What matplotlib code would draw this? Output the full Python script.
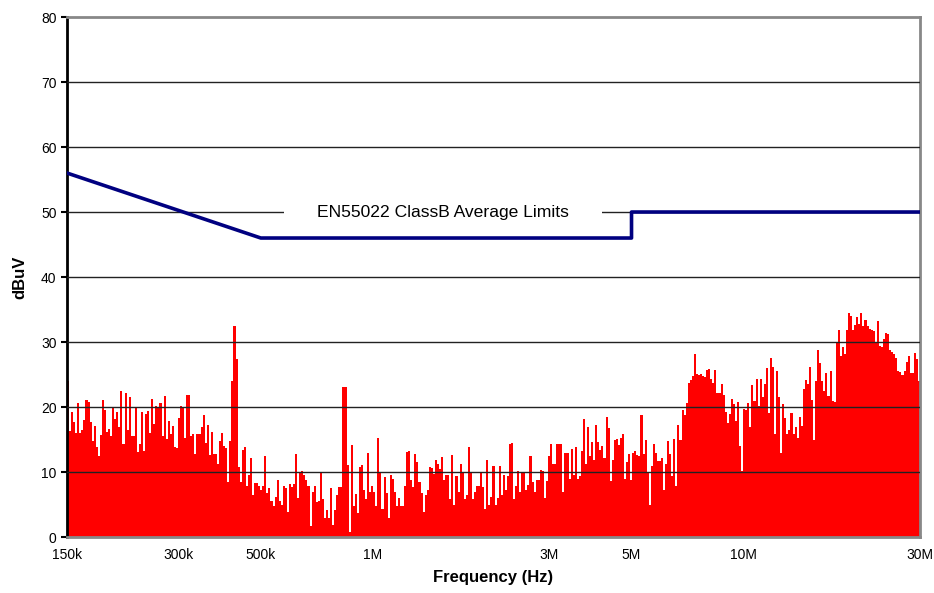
import numpy as np
import matplotlib
matplotlib.use('Agg')
import matplotlib.pyplot as plt

plt.rcParams['font.family'] = ['Liberation Sans', 'DejaVu Sans']

# measured average level per sweep step (dBuV), low -> high frequency
level_db = [
    # ~150k - 300k
    24.0, 16.3, 19.2, 17.7, 16.0, 20.6, 16.0, 16.5, 18.0, 21.1,
    20.8, 17.7, 14.8, 17.1, 13.9, 12.4, 15.7, 21.1, 19.6, 16.2,
    16.6, 15.5, 19.8, 18.2, 19.3, 17.0, 22.4, 14.3, 22.1, 16.4,
    21.6, 15.5, 15.6, 19.9, 13.1, 14.3, 19.3, 13.2, 19.0, 19.4,
    16.0, 21.2, 17.4, 20.2, 19.9, 20.6, 15.5, 21.7, 15.1, 17.9,
    15.9, 17.1, 13.8, 13.7, 18.3, 20.1, 19.9, 15.3, 21.9, 21.9,
    15.6, 15.9, 12.8, 15.8, 15.8, 17.0,
    # ~300k - 1M
    18.8, 14.5, 17.3, 12.6, 16.1, 12.8, 12.8, 11.2, 14.8, 16.0,
    14.0, 13.7, 8.5, 14.7, 24.0, 32.5, 27.4, 10.8, 8.5, 13.4,
    13.8, 7.9, 9.6, 12.1, 6.4, 8.3, 8.3, 7.8, 7.2, 7.9,
    12.5, 6.8, 7.5, 5.5, 4.7, 6.1, 8.7, 5.6, 4.9, 7.9,
    7.5, 3.9, 8.2, 7.7, 8.1, 12.7, 6.0, 9.8, 10.1, 9.5,
    8.8, 7.9, 1.7, 7.0, 7.9, 5.4, 5.6, 9.9, 5.8, 3.0,
    4.2, 3.0, 7.5, 1.8, 4.2, 6.4, 7.7, 7.7, 23.1, 23.1,
    # ~1M - 2M
    11.1, 0.8, 14.2, 4.8, 6.6, 3.7, 10.8, 11.1, 7.3, 5.8,
    12.9, 6.9, 7.8, 7.0, 4.8, 15.2, 10.0, 4.3, 9.3, 6.8,
    3.0, 9.6, 9.0, 7.0, 4.8, 6.0, 4.8, 4.8, 7.8, 13.1,
    13.3, 8.8, 7.7, 12.7, 11.6, 8.5, 6.8, 3.9, 6.4, 7.3,
    10.8, 10.6, 9.7, 11.8, 11.3, 10.4, 12.3, 8.8, 9.5, 9.5,
    5.9, 12.6, 5.0, 9.4, 6.9, 11.3, 10.0, 5.8, 6.4, 13.8,
    10.0, 5.9, 7.0, 7.8, 7.8, 10.0, 7.7, 4.3, 11.9, 5.0,
    6.1, 11.0,
    # ~2M - 6M
    4.9, 6.0, 11.0, 6.4, 9.5, 7.3, 9.4, 14.3, 14.5, 5.9,
    7.8, 10.2, 6.9, 10.0, 9.8, 7.3, 8.0, 12.4, 8.4, 6.9,
    8.7, 8.7, 10.3, 10.1, 6.0, 8.6, 12.5, 14.3, 11.2, 11.2,
    14.3, 14.3, 14.3, 6.9, 13.0, 12.9, 9.0, 13.6, 9.6, 13.8,
    9.0, 9.4, 13.2, 18.2, 11.3, 16.9, 12.4, 14.6, 11.9, 17.2,
    14.6, 13.4, 14.0, 12.2, 18.5, 16.8, 8.6, 11.9, 14.9, 15.1,
    14.1, 15.3, 15.9, 9.0, 11.6, 12.8, 8.7, 12.9, 13.2, 12.6,
    12.5, 18.7,
    # ~6M - 13M
    12.8, 15.0, 10.0, 5.0, 11.0, 14.3, 12.9, 11.7, 11.7, 12.2,
    7.3, 11.2, 14.8, 12.8, 9.4, 15.1, 7.9, 17.2, 15.0, 19.5,
    18.8, 20.6, 23.7, 24.1, 24.7, 28.2, 25.1, 25.0, 25.1, 24.8,
    24.6, 25.7, 25.9, 24.3, 23.7, 25.7, 22.2, 22.2, 23.6, 21.9,
    19.3, 17.5, 19.0, 21.2, 20.4, 17.8, 20.8, 14.0, 10.2, 19.7,
    19.5, 20.6, 17.0, 23.4, 21.0, 24.3, 20.1, 24.3, 21.6, 23.5,
    26.0, 19.1, 27.6, 26.1, 15.8,
    # ~13M - 30M
    25.5, 21.5, 12.9, 20.4, 18.3, 15.8, 16.5, 19.1, 15.9, 17.0,
    15.3, 18.5, 17.1, 22.8, 24.2, 23.5, 26.1, 21.1, 15.0, 24.0,
    28.8, 26.8, 24.0, 22.4, 25.3, 21.7, 25.5, 20.9, 20.7, 30.0,
    31.8, 27.9, 29.2, 28.2, 31.9, 34.4, 34.0, 31.9, 32.6, 33.9,
    32.7, 34.5, 32.5, 33.4, 32.4, 32.0, 31.9, 31.7, 30.0, 33.3,
    29.4, 29.3, 30.5, 31.4, 31.3, 28.8, 28.5, 28.2, 27.6, 25.6,
    25.4, 24.9, 25.6, 26.9, 27.9, 25.3, 25.2, 28.3, 27.4, 24.0,
]

# EN55022 class B average limit
limit_freq = [150e3, 500e3, 5e6, 5e6, 30e6]
limit_db = [56, 46, 46, 50, 50]

tick_freq = [150e3, 300e3, 500e3, 1e6, 3e6, 5e6, 10e6, 30e6]
tick_labels = ['150k', '300k', '500k', '1M', '3M', '5M', '10M', '30M']

fig = plt.figure(figsize=(9.34, 5.93), dpi=100)
ax = fig.add_axes([0.0717, 0.0944, 0.9133, 0.8769])

# sweep steps are evenly spaced on the log axis
edges = np.geomspace(150e3, 30e6, len(level_db) + 1)
ax.bar(edges[:-1], level_db, width=np.diff(edges), align='edge',
       color='#ff0000', linewidth=0, zorder=2)

ax.plot(limit_freq, limit_db, color='#000080', linewidth=2.6, zorder=5)

ax.text(1.55e6, 50, 'EN55022 ClassB Average Limits',
        ha='center', va='center', fontsize=12.6, zorder=4,
        bbox=dict(facecolor='white', edgecolor='none', pad=24))

ax.set_xscale('log')
ax.set_xlim(150e3, 30e6)
ax.set_ylim(0, 80)
ax.set_xticks(tick_freq)
ax.set_xticklabels(tick_labels)
ax.minorticks_off()
ax.set_yticks(range(0, 81, 10))

for v in range(10, 80, 10):
    ax.axhline(v, color='#222222', linewidth=1, zorder=3)

ax.tick_params(axis='x', length=0, pad=8, labelsize=10)
ax.tick_params(axis='y', length=4, width=1.5, labelsize=10, direction='out')

ax.spines['left'].set_linewidth(2)
ax.spines['left'].set_color('black')
for s in ['top', 'right', 'bottom']:
    ax.spines[s].set_color('#888888')
    ax.spines[s].set_linewidth(2)

ax.set_xlabel('Frequency (Hz)', fontsize=12, fontweight='bold', labelpad=6)
ax.set_ylabel('dBuV', fontsize=12, fontweight='bold', labelpad=10)

fig.savefig('out.png', dpi=100)
